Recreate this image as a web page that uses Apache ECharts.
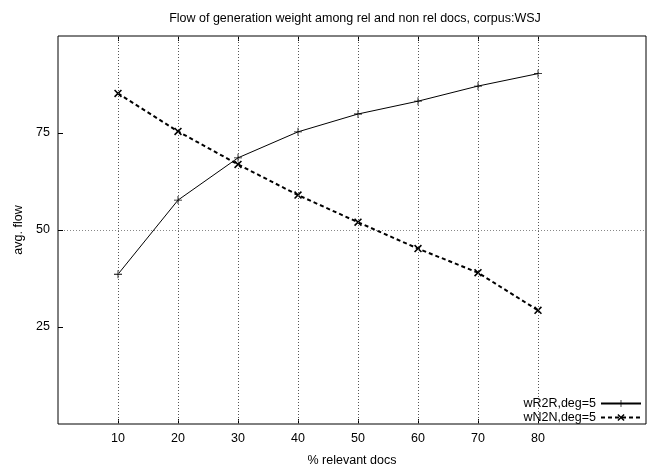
<!DOCTYPE html>
<html>
<head>
<meta charset="utf-8">
<script src="https://cdn.jsdelivr.net/npm/echarts@6/dist/echarts.min.js"></script>
<style>html,body{margin:0;padding:0;background:#fff;}#c{width:647px;height:472px;}</style>
</head>
<body>
<div id="c"></div>
<script>
const titleText = 'Flow of generation weight among rel and non rel docs, corpus:WSJ';
const xName = '% relevant docs';
const yName = 'avg. flow';
const xValues = [10, 20, 30, 40, 50, 60, 70, 80];
const wR2R = [38.6, 57.7, 68.6, 75.3, 79.9, 83.2, 87.1, 90.3];
const wN2N = [85.2, 75.4, 66.9, 59.0, 52.0, 45.2, 39.0, 29.3];
const xTicks = [10, 20, 30, 40, 50, 60, 70, 80];
const yTicks = [25, 50, 75];
const seriesNames = ['wR2R,deg=5', 'wN2N,deg=5'];

const FONT = "'Liberation Sans', Arial, sans-serif";
const PLUS = 'path://M0,4.5H10V5.5H0Z M4.5,0H5.5V10H4.5Z';
const CROSS = 'path://M0,1.4L1.4,0L10,8.6L8.6,10Z M8.6,0L10,1.4L1.4,10L0,8.6Z';

const chart = echarts.init(document.getElementById('c'), null, {renderer: 'canvas'});
chart.setOption({
  animation: false,
  backgroundColor: '#fff',
  title: {
    text: titleText, left: 350, top: 7, textAlign: 'center',
    textStyle: {fontFamily: FONT, fontSize: 12.5, fontWeight: 'normal', color: '#000'}
  },
  grid: {left: 58, right: 1, top: 36, bottom: 43, show: true, borderColor: '#000', borderWidth: 1, backgroundColor: 'transparent'},
  legend: {
    data: seriesNames, orient: 'vertical', right: 5, top: 397, align: 'right',
    itemWidth: 40, itemHeight: 9, itemGap: 1,
    textStyle: {fontFamily: FONT, fontSize: 12.5, color: '#000', padding: [0, 0, 0, 0]},
    padding: 0
  },
  xAxis: [{
    type: 'value', min: 0, max: 98,
    name: xName, nameLocation: 'middle', nameGap: 30,
    nameTextStyle: {fontFamily: FONT, fontSize: 12.5, color: '#000'},
    axisLine: {show: false},
    axisTick: {show: true, inside: true, length: 5, customValues: xTicks, lineStyle: {color: '#000'}},
    axisLabel: {customValues: xTicks, margin: 8, fontFamily: FONT, fontSize: 12.5, color: '#000'},
    splitLine: {show: false}
  }, {
    type: 'value', min: 0, max: 98, position: 'top',
    axisLine: {show: false},
    axisTick: {show: true, inside: true, length: 5, customValues: xTicks, lineStyle: {color: '#000'}},
    axisLabel: {show: false},
    splitLine: {show: false}
  }],
  yAxis: {
    type: 'value', min: 0, max: 100, interval: 25,
    name: yName, nameLocation: 'middle', nameGap: 27, nameRotate: 90,
    nameTextStyle: {fontFamily: FONT, fontSize: 12.5, color: '#000'},
    axisLine: {show: false},
    axisTick: {show: true, inside: true, length: 5, customValues: yTicks, lineStyle: {color: '#000'}},
    axisLabel: {customValues: yTicks, margin: 8, fontFamily: FONT, fontSize: 12.5, color: '#000'},
    splitLine: {show: true, showMinLine: false, showMaxLine: false, lineStyle: {color: '#888', type: [1, 2], width: 1}}
  },
  series: [{
    name: seriesNames[0], type: 'line',
    data: xValues.map((x, i) => [x, wR2R[i]]),
    symbol: PLUS, symbolSize: 8, showAllSymbol: true,
    lineStyle: {color: '#000', width: 1},
    itemStyle: {color: '#000'},
    markLine: {
      silent: true, symbol: 'none', label: {show: false},
      lineStyle: {color: '#555', type: [1, 2], width: 1},
      data: xTicks.map(v => ({xAxis: v}))
    },
    z: 3
  }, {
    name: seriesNames[1], type: 'line',
    data: xValues.map((x, i) => [x, wN2N[i]]),
    symbol: CROSS, symbolSize: 8, showAllSymbol: true,
    lineStyle: {color: '#000', width: 2, type: [4, 3]},
    itemStyle: {color: '#000'},
    z: 3
  }]
});
</script>
</body>
</html>
